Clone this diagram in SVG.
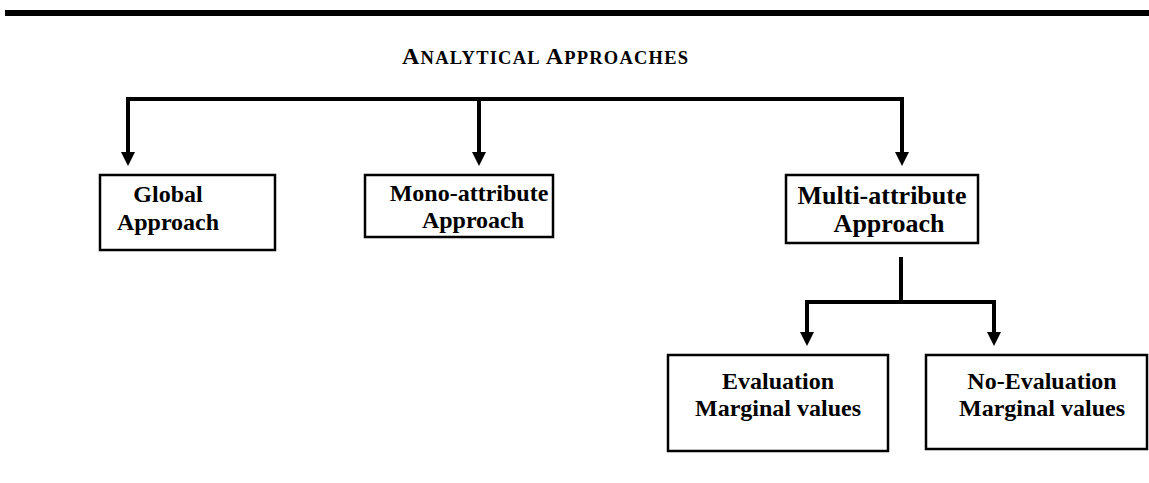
<svg xmlns="http://www.w3.org/2000/svg" width="1149" height="483" viewBox="0 0 1149 483">
<style>
.box{fill:#fff;stroke:#000;stroke-width:2.5}
.lbl{font-family:"Liberation Serif","Times New Roman",serif;font-weight:bold;font-size:24px;fill:#000;text-anchor:middle}
.big{font-size:26px}
.ttl{font-family:"Liberation Serif","Times New Roman",serif;font-weight:bold;fill:#000}
.con{fill:none;stroke:#000;stroke-width:4}
</style>
<defs>
<marker id="ah" viewBox="0 0 14 14" markerWidth="14" markerHeight="14" markerUnits="userSpaceOnUse" refX="1" refY="7" orient="auto">
<path d="M0,0 L14,7 L0,14 Z" fill="#000"/>
</marker>
</defs>
<rect x="5" y="10" width="1144" height="6" fill="#000"/>
<text class="ttl" x="402" y="64" textLength="286" lengthAdjust="spacing"><tspan font-size="24">A</tspan><tspan font-size="18.5">NALYTICAL  </tspan><tspan font-size="24">A</tspan><tspan font-size="18.5">PPROACHES</tspan></text>
<g id="connectors">
<path class="con" d="M128,153 V99 H902 V153" marker-end="url(#ah)"/>
<path class="con" d="M128,101 V153" marker-end="url(#ah)"/>
<path class="con" d="M479,99 V153" marker-end="url(#ah)"/>
<path class="con" d="M901,257 V302 H994 V333" marker-end="url(#ah)"/>
<path class="con" d="M901,302 H807 V333" marker-end="url(#ah)"/>
</g>
<g id="global">
<rect class="box" x="100" y="175" width="175" height="75"/>
<text class="lbl" x="168" y="202">Global</text>
<text class="lbl" x="168" y="230">Approach</text>
</g>
<g id="mono">
<rect class="box" x="365" y="175" width="188" height="62"/>
<text class="lbl" x="469" y="201">Mono-attribute</text>
<text class="lbl" x="473" y="228">Approach</text>
</g>
<g id="multi">
<rect class="box" x="786" y="175" width="192" height="68"/>
<text class="lbl big" x="882" y="204">Multi-attribute</text>
<text class="lbl big" x="889" y="232">Approach</text>
</g>
<g id="eval">
<rect class="box" x="668" y="355" width="220" height="96"/>
<text class="lbl" x="778" y="389">Evaluation</text>
<text class="lbl" x="778" y="416">Marginal values</text>
</g>
<g id="noeval">
<rect class="box" x="926" y="355" width="221" height="94"/>
<text class="lbl" x="1042" y="389">No-Evaluation</text>
<text class="lbl" x="1042" y="416">Marginal values</text>
</g>
</svg>
